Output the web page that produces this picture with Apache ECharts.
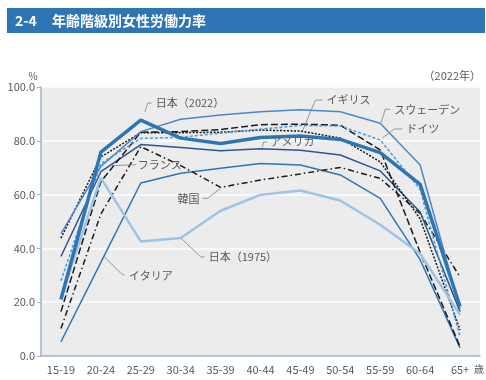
<!DOCTYPE html>
<html><head><meta charset="utf-8">
<script src="https://cdn.jsdelivr.net/npm/echarts@6/dist/echarts.min.js"></script>
<style>html,body{margin:0;padding:0;background:#fff}#c{width:486px;height:380px}</style>
</head><body><div id="c"></div>
<script>
const categories = ['15-19','20-24','25-29','30-34','35-39','40-44','45-49','50-54','55-59','60-64','65+'];
const yTicks = [0, 20, 40, 60, 80, 100];
const japan2022 = [21.0, 75.8, 87.7, 81.0, 79.0, 81.2, 81.8, 80.5, 75.6, 63.8, 18.4];
const japan1975 = [21.7, 66.2, 42.6, 43.9, 54.0, 59.9, 61.5, 57.8, 48.8, 38.0, 15.3];
const sweden    = [45.5, 70.5, 83.4, 88.0, 89.6, 90.8, 91.5, 90.8, 86.5, 71.0, 17.5];
const germany   = [28.0, 71.5, 80.9, 81.3, 82.8, 84.3, 85.7, 85.5, 80.3, 62.0, 7.2];
const uk        = [43.8, 74.0, 83.0, 83.0, 83.2, 84.0, 83.6, 81.0, 72.2, 51.0, 9.7];
const france    = [16.5, 64.8, 83.2, 83.4, 84.2, 86.0, 86.2, 85.8, 76.6, 38.5, 3.5];
const usa       = [37.0, 68.5, 78.6, 77.5, 76.3, 77.0, 76.5, 74.7, 68.8, 53.5, 16.5];
const italy     = [5.3, 34.8, 64.3, 67.9, 69.8, 71.6, 71.0, 67.3, 58.6, 35.8, 3.0];
const korea     = [10.2, 52.8, 77.8, 70.8, 62.7, 65.4, 67.7, 70.1, 66.0, 53.0, 29.4];

const FONT = '"Noto Sans CJK JP", "Noto Sans", sans-serif';
const GREY = '#595959';

const seriesDefs = [
  {name:'イタリア', data: italy, color:'#2e75b6', width:1.5, type:'solid'},
  {name:'韓国', data: korea, color:'#1a1a1a', width:1.5, type:[6,3,1.5,3]},
  {name:'アメリカ', data: usa, color:'#2c5690', width:1.5, type:'solid'},
  {name:'フランス', data: france, color:'#1a1a1a', width:1.5, type:[7,3]},
  {name:'イギリス', data: uk, color:'#1a1a1a', width:1.5, type:[2,1.5]},
  {name:'ドイツ', data: germany, color:'#4a98dc', width:1.5, type:[3,2]},
  {name:'スウェーデン', data: sweden, color:'#4f86c6', width:1.5, type:'solid'},
  {name:'日本（1975）', data: japan1975, color:'#9dc3e6', width:2.5, type:'solid'},
  {name:'日本（2022）', data: japan2022, color:'#2e75b6', width:3.5, type:'solid'}
];

const chart = echarts.init(document.getElementById('c'), null, {renderer:'canvas'});
chart.setOption({
  animation:false,
  backgroundColor:'#fff',
  textStyle:{fontFamily:FONT},
  grid:{left:41, right:6, top:87, bottom:24, show:true, backgroundColor:'#ececec', borderWidth:0},
  xAxis:{type:'category', data:categories, boundaryGap:true,
    axisLine:{lineStyle:{color:'#9fb3c8', width:1.5}},
    axisTick:{alignWithLabel:true, length:4, lineStyle:{color:'#9fb3c8'}},
    axisLabel:{color:GREY, fontSize:11, margin:8, fontFamily:FONT}},
  yAxis:{type:'value', min:yTicks[0], max:yTicks[yTicks.length-1], interval:20,
    axisLine:{show:true, lineStyle:{color:'#9fb3c8', width:1.5}},
    axisTick:{show:true, length:4, lineStyle:{color:'#9fb3c8'}},
    axisLabel:{color:GREY, fontSize:11, margin:6, fontFamily:FONT, formatter:v=>v.toFixed(1)},
    splitLine:{lineStyle:{color:'#ffffff', width:1.5}}},
  series: seriesDefs.map(s=>({type:'line', name:s.name, data:s.data, showSymbol:false, symbol:'none',
    lineStyle:{color:s.color, width:s.width, type:s.type}, itemStyle:{color:s.color}}))
});

// annotation labels with leader lines, anchored to data points
const labelSpecs = [
  {s:'日本（2022）', i:2, pts:[[4,-8],[7,-17],[11,-17]], t:[15,-17], align:'left'},
  {s:'イギリス', i:6, pts:[[2,0],[15,-31],[22,-31]], t:[26,-31], align:'left'},
  {s:'スウェーデン', i:8, pts:[[1,-1],[5,-14],[10,-14]], t:[14,-14], align:'left'},
  {s:'ドイツ', i:8, pts:[[2,-2],[14,-11],[22,-11]], t:[26,-11], align:'left'},
  {s:'アメリカ', i:5, pts:[[2,-2],[3,-7],[7,-7]], t:[10,-7], align:'left'},
  {s:'フランス', i:1, pts:[[11,-16],[35,-17]], t:[37,-17], align:'left'},
  {s:'韓国', i:4, pts:[[0,1],[-13,11],[-18,11]], t:[-21,11], align:'right'},
  {s:'日本（1975）', i:3, pts:[[0,0],[20,19],[24,19]], t:[28,19], align:'left'},
  {s:'イタリア', i:1, pts:[[3,-6],[20,11],[24,13]], t:[28,13], align:'left'}
];
const graphics = [];
labelSpecs.forEach(l=>{
  const def = seriesDefs.find(d=>d.name===l.s);
  const p = chart.convertToPixel({gridIndex:0}, [l.i, def.data[l.i]]);
  graphics.push({type:'polyline', silent:true, z:100,
    shape:{points:l.pts.map(q=>[p[0]+q[0], p[1]+q[1]])},
    style:{stroke:'#808080', lineWidth:0.8, fill:null}});
  graphics.push({type:'text', silent:true, z:100, x:p[0]+l.t[0], y:p[1]+l.t[1],
    style:{text:l.s, fill:GREY, font:'11px '+FONT, align:l.align, verticalAlign:'middle'}});
});
// title bar and other texts
graphics.push({type:'rect', shape:{x:7, y:8, width:478, height:25}, style:{fill:'#2e75b6'}, z:50});
graphics.push({type:'text', x:15, y:21, style:{text:'2-4', fill:'#fff', font:'bold 14px '+FONT, verticalAlign:'middle'}, z:51});
graphics.push({type:'text', x:52, y:21, style:{text:'年齢階級別女性労働力率', fill:'#fff', font:'bold 14px '+FONT, verticalAlign:'middle'}, z:51});
graphics.push({type:'text', x:33, y:76, style:{text:'%', fill:GREY, font:'10px '+FONT, align:'center', verticalAlign:'middle'}});
graphics.push({type:'text', x:481, y:76, style:{text:'（2022年）', fill:GREY, font:'11px '+FONT, align:'right', verticalAlign:'middle'}});
graphics.push({type:'text', x:474, y:369, style:{text:'歳', fill:GREY, font:'10px '+FONT, align:'left', verticalAlign:'middle'}});
chart.setOption({graphic:graphics});
</script></body></html>
